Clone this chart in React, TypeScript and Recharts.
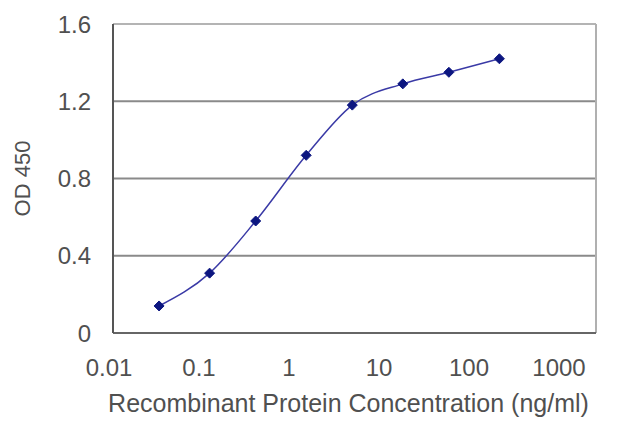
import { LineChart, Line, XAxis, YAxis, ReferenceLine } from 'recharts';

// ELISA standard curve
const concentrations = [0.03, 0.1, 0.3, 1, 3, 10, 30, 100];
const od450 = [0.14, 0.31, 0.58, 0.92, 1.18, 1.29, 1.35, 1.42];

const xTicks = [0.01, 0.1, 1, 10, 100, 1000];
const yTicks = [0, 0.4, 0.8, 1.2, 1.6];
const gridValues = [0.4, 0.8, 1.2];

const data = concentrations.map((c, i) => ({ conc: c, od: od450[i] }));

const FONT = '"Liberation Sans", Arial, sans-serif';
const TEXT = '#505050';
const FONT_SIZE = 24;

// rhombus marker like the Excel default
// eslint-disable-next-line @typescript-eslint/no-explicit-any
const Diamond = (props: any) => {
  const { cx, cy } = props;
  if (cx == null || cy == null) return null;
  const r = 5;
  return (
    <polygon
      points={`${cx},${cy - r} ${cx + r},${cy} ${cx},${cy + r} ${cx - r},${cy}`}
      fill="#0c1680"
      stroke="#0c1680"
      strokeWidth={1}
    />
  );
};

// the original's x labels drift left of their ticks a little more each decade
// eslint-disable-next-line @typescript-eslint/no-explicit-any
const XTick = (props: any) => {
  const { x, y, payload, index } = props;
  return (
    <text
      x={x - 4 - 6.6 * index}
      y={y}
      dy="0.71em"
      textAnchor="middle"
      fill={TEXT}
      fontSize={FONT_SIZE}
    >
      {String(payload.value)}
    </text>
  );
};

export default function App() {
  return (
    <div style={{ width: 640, height: 427 }}>
      <style>{'body{margin:0}'}</style>
      <LineChart
        width={640}
        height={427}
        data={data}
        margin={{ top: 24, right: 44, bottom: 0, left: 0 }}
        style={{ fontFamily: FONT }}
      >
        {gridValues.map((v) => (
          <ReferenceLine key={v} y={v} stroke="#8a8a8a" strokeWidth={2} />
        ))}
        <ReferenceLine y={1.6} stroke="#b4b4b4" strokeWidth={2} />
        <ReferenceLine x={1000} stroke="#b0b0b0" strokeWidth={2} />
        <XAxis
          dataKey="conc"
          type="number"
          scale="log"
          domain={[0.01, 1000]}
          ticks={xTicks}
          height={94}
          stroke="#666666"
          strokeWidth={2}
          tickLine={false}
          tickSize={0}
          tickMargin={26}
          tick={<XTick />}
          allowDataOverflow
          label={{
            value: 'Recombinant Protein Concentration (ng/ml)',
            position: 'insideBottom',
            offset: 15,
            dx: -6,
            fill: TEXT,
            fontSize: 25,
          }}
        />
        <YAxis
          type="number"
          domain={[0, 1.6]}
          ticks={yTicks}
          tickFormatter={(v: number) => String(v)}
          width={113}
          stroke="#555555"
          strokeWidth={2}
          tickLine={false}
          tickSize={0}
          tickMargin={22}
          tick={{ fill: TEXT, fontSize: FONT_SIZE }}
          label={{
            value: 'OD 450',
            angle: -90,
            position: 'insideLeft',
            offset: 22,
            fill: TEXT,
            fontSize: 22,
            style: { textAnchor: 'middle' },
          }}
        />
        <Line
          dataKey="od"
          type="monotone"
          stroke="#3a3aa6"
          strokeWidth={1.5}
          dot={<Diamond />}
          activeDot={false}
          isAnimationActive={false}
        />
      </LineChart>
    </div>
  );
}
